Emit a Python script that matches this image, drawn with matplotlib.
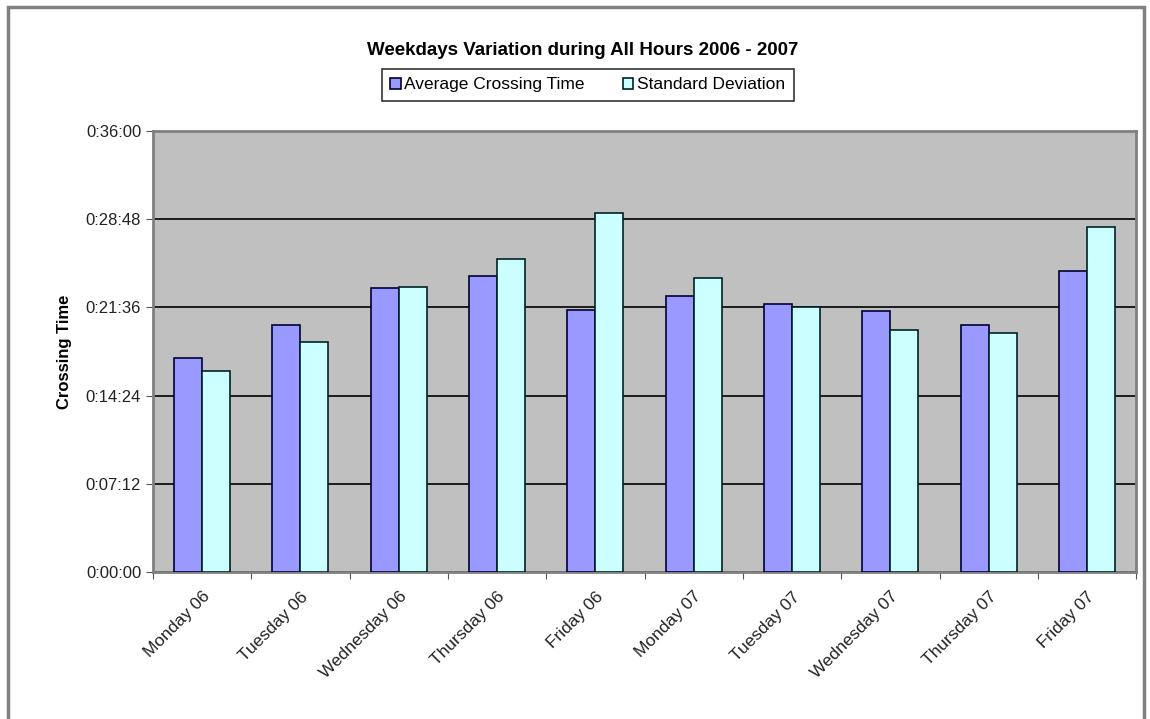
import numpy as np
import matplotlib
matplotlib.use('Agg')
import matplotlib.pyplot as plt
from matplotlib.ticker import FuncFormatter, MultipleLocator
from matplotlib.patches import Rectangle

plt.rcParams['font.family'] = ['Liberation Sans', 'DejaVu Sans']

days = ['Monday 06', 'Tuesday 06', 'Wednesday 06', 'Thursday 06', 'Friday 06',
        'Monday 07', 'Tuesday 07', 'Wednesday 07', 'Thursday 07', 'Friday 07']
avg_time = ['0:17:28', '0:20:11', '0:23:10', '0:24:10', '0:21:23',
            '0:22:32', '0:21:53', '0:21:20', '0:20:10', '0:24:34']
std_dev = ['0:16:26', '0:18:47', '0:23:14', '0:25:31', '0:29:16',
           '0:23:58', '0:21:40', '0:19:46', '0:19:32', '0:28:08']


def to_sec(s):
    h, m, sec = s.split(':')
    return int(h) * 3600 + int(m) * 60 + int(sec)


def fmt(v, pos):
    v = int(round(v))
    return '%d:%02d:%02d' % (v // 3600, (v % 3600) // 60, v % 60)


avg_s = [to_sec(s) for s in avg_time]
std_s = [to_sec(s) for s in std_dev]

fig = plt.figure(figsize=(11.5, 7.19), dpi=100)
fig.patches.append(Rectangle((0.007, -0.05), 0.988, 1.04, transform=fig.transFigure,
                             fill=False, edgecolor='#808080', linewidth=2.5))
ax = fig.add_axes([0.133, 0.204, 0.855, 0.614])
ax.set_facecolor('#C0C0C0')

x = np.arange(len(days))
w = 0.285
ax.bar(x - w / 2, avg_s, w, color='#9999FF', edgecolor='#000033', linewidth=1.2,
       label='Average Crossing Time', zorder=3)
ax.bar(x + w / 2, std_s, w, color='#CCFFFF', edgecolor='#002222', linewidth=1.2,
       label='Standard Deviation', zorder=3)

ax.set_ylim(0, 2160)
ax.set_xlim(-0.5, len(days) - 0.5)
ax.yaxis.set_major_locator(MultipleLocator(432))
ax.yaxis.set_major_formatter(FuncFormatter(fmt))
ax.grid(axis='y', color='black', linewidth=1.2, zorder=1)
ax.set_xticks(np.arange(len(days) + 1) - 0.5, minor=False)
ax.set_xticklabels([])
ax.set_xticks(x, minor=True)
ax.set_xticklabels(days, minor=True, rotation=45, ha='right', rotation_mode='anchor',
                   fontsize=12.5, color='#222222')
ax.tick_params(axis='x', which='minor', length=0, pad=12)
ax.tick_params(axis='x', which='major', length=5, color='#555555', direction='out')
ax.tick_params(axis='y', length=5, color='#555555', labelsize=12, labelcolor='#222222')
for sp in ax.spines.values():
    sp.set_color('#808080')
    sp.set_linewidth(2)

ax.set_ylabel('Crossing Time', fontsize=12, fontweight='bold', labelpad=10)
fig.text(0.507, 0.930, 'Weekdays Variation during All Hours 2006 - 2007',
         ha='center', va='center', fontsize=13.5, fontweight='bold')
leg = fig.legend(loc='center', bbox_to_anchor=(0.511, 0.882), ncol=2, frameon=True,
                 fancybox=False, edgecolor='black', fontsize=12.5, handlelength=0.6,
                 handleheight=0.6, handletextpad=0.2, columnspacing=2.2,
                 borderpad=0.5, shadow=False)
leg.get_frame().set_linewidth(1.2)

fig.savefig('out.png', dpi=100)
